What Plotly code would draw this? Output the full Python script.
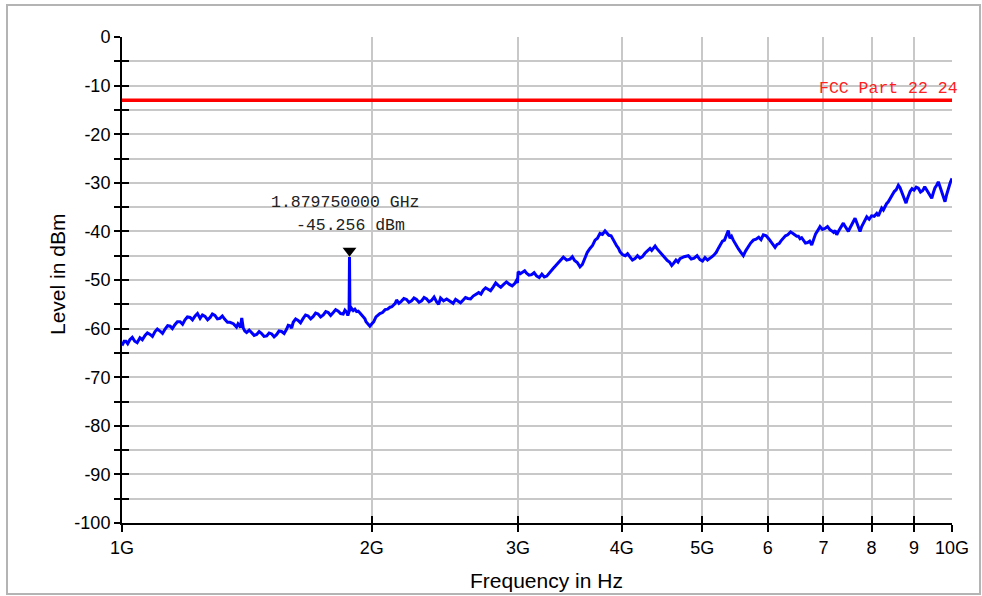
import math
import plotly.graph_objects as go

# ---- data ----
freq_ghz = [
    1.000, 1.006, 1.011, 1.016, 1.022, 1.029, 1.036, 1.043, 1.051, 1.058,
    1.066, 1.073, 1.081, 1.088, 1.096, 1.103, 1.111, 1.119, 1.127, 1.135,
    1.143, 1.150, 1.158, 1.166, 1.175, 1.183, 1.191, 1.199, 1.208, 1.216,
    1.225, 1.233, 1.242, 1.250, 1.259, 1.268, 1.277, 1.285, 1.294, 1.303,
    1.312, 1.321, 1.330, 1.340, 1.349, 1.362, 1.374, 1.380, 1.385, 1.389,
    1.394, 1.400, 1.406, 1.413, 1.423, 1.433, 1.443, 1.453, 1.463, 1.473,
    1.483, 1.494, 1.504, 1.515, 1.525, 1.536, 1.546, 1.557, 1.568, 1.579,
    1.586, 1.594, 1.601, 1.608, 1.619, 1.630, 1.641, 1.653, 1.664, 1.676,
    1.688, 1.700, 1.711, 1.723, 1.735, 1.748, 1.760, 1.772, 1.784, 1.797,
    1.809, 1.822, 1.834, 1.847, 1.856, 1.865, 1.871, 1.8775, 1.87975, 1.8820,
    1.890, 1.899, 1.908, 1.917, 1.926, 1.935, 1.948, 1.962, 1.968, 1.975,
    1.982, 1.989, 2.000, 2.010, 2.023, 2.036, 2.045, 2.060, 2.075, 2.089,
    2.103, 2.114, 2.125, 2.134, 2.142, 2.156, 2.170, 2.186, 2.202, 2.217,
    2.233, 2.248, 2.264, 2.280, 2.296, 2.312, 2.328, 2.344, 2.360, 2.377,
    2.394, 2.407, 2.420, 2.440, 2.461, 2.483, 2.506, 2.523, 2.540, 2.558,
    2.577, 2.593, 2.610, 2.630, 2.649, 2.670, 2.690, 2.707, 2.724, 2.742,
    2.760, 2.780, 2.801, 2.820, 2.840, 2.860, 2.879, 2.905, 2.930, 2.952,
    2.974, 2.985, 2.995, 3.001, 3.020, 3.040, 3.056, 3.072, 3.093, 3.115,
    3.137, 3.160, 3.182, 3.205, 3.227, 3.249, 3.279, 3.309, 3.332, 3.355,
    3.378, 3.402, 3.434, 3.466, 3.488, 3.510, 3.536, 3.563, 3.586, 3.610,
    3.636, 3.663, 3.689, 3.715, 3.740, 3.766, 3.792, 3.819, 3.840, 3.860,
    3.884, 3.908, 3.926, 3.945, 3.963, 3.981, 4.010, 4.040, 4.066, 4.093,
    4.121, 4.150, 4.179, 4.208, 4.237, 4.266, 4.296, 4.327, 4.347, 4.368,
    4.388, 4.408, 4.448, 4.489, 4.514, 4.540, 4.567, 4.595, 4.622, 4.650,
    4.676, 4.702, 4.757, 4.812, 4.851, 4.890, 4.930, 4.970, 5.005, 5.040,
    5.075, 5.110, 5.140, 5.170, 5.200, 5.229, 5.260, 5.290, 5.320, 5.353,
    5.376, 5.400, 5.425, 5.451, 5.490, 5.530, 5.567, 5.605, 5.642, 5.680,
    5.720, 5.763, 5.806, 5.850, 5.887, 5.925, 5.972, 6.020, 6.070, 6.121,
    6.155, 6.190, 6.226, 6.263, 6.300, 6.340, 6.390, 6.439, 6.470, 6.500,
    6.530, 6.560, 6.590, 6.620, 6.660, 6.700, 6.738, 6.776, 6.813, 6.850,
    6.892, 6.934, 6.982, 7.030, 7.080, 7.130, 7.165, 7.200, 7.231, 7.263,
    7.296, 7.330, 7.364, 7.397, 7.423, 7.450, 7.475, 7.501, 7.535, 7.570,
    7.606, 7.642, 7.671, 7.700, 7.724, 7.748, 7.784, 7.820, 7.857, 7.894,
    7.947, 8.000, 8.058, 8.116, 8.153, 8.190, 8.228, 8.266, 8.303, 8.340,
    8.380, 8.421, 8.470, 8.520, 8.568, 8.617, 8.658, 8.699, 8.751, 8.803,
    8.826, 8.850, 8.876, 8.902, 8.951, 9.000, 9.055, 9.109, 9.165, 9.220,
    9.272, 9.324, 9.362, 9.400, 9.427, 9.453, 9.497, 9.540, 9.584, 9.627,
    9.664, 9.700, 9.754, 9.808, 9.854, 9.900, 9.950, 10.000,
]
level_dbm = [
    -63.5, -62.6, -62.6, -63.1, -62.3, -61.8, -62.6, -62.9, -61.9, -62.3,
    -61.4, -60.9, -61.2, -61.6, -60.6, -60.1, -60.5, -61.0, -60.1, -59.4,
    -59.5, -60.0, -59.2, -58.6, -58.6, -59.1, -58.2, -57.6, -57.7, -58.2,
    -57.4, -56.9, -57.9, -57.2, -57.5, -58.2, -57.7, -57.0, -57.3, -58.0,
    -57.9, -57.4, -58.1, -58.7, -58.7, -59.0, -59.7, -59.0, -59.3, -59.8,
    -57.8, -59.9, -60.5, -60.8, -60.3, -60.9, -61.4, -61.2, -60.6, -61.0,
    -61.6, -61.5, -60.9, -61.1, -61.7, -61.2, -60.5, -60.6, -61.0, -60.1,
    -59.3, -59.4, -59.9, -58.7, -58.0, -58.3, -58.8, -57.9, -57.2, -57.4,
    -58.0, -57.5, -56.8, -57.0, -57.6, -57.2, -56.5, -56.7, -57.3, -56.7,
    -56.1, -56.4, -56.9, -57.0, -56.2, -56.6, -57.3, -56.5, -45.256, -56.3,
    -55.8, -56.3, -56.0, -56.5, -56.4, -56.8, -57.3, -58.0, -58.6, -58.9,
    -59.2, -59.5, -59.0, -58.6, -57.6, -57.2, -56.9, -56.7, -56.1, -56.0,
    -55.6, -55.5, -55.2, -54.8, -54.1, -54.8, -54.4, -53.8, -54.0, -54.6,
    -54.3, -53.7, -54.0, -54.6, -54.3, -53.6, -53.9, -54.5, -54.2, -53.5,
    -54.5, -55.0, -53.7, -54.3, -53.9, -54.4, -54.8, -54.0, -54.3, -54.7,
    -54.1, -53.6, -53.8, -53.9, -53.3, -53.0, -52.6, -52.9, -52.1, -51.6,
    -51.9, -52.2, -51.4, -50.6, -51.1, -51.5, -51.0, -50.4, -50.9, -51.2,
    -50.7, -50.2, -50.6, -48.3, -48.7, -48.4, -48.1, -48.6, -49.0, -48.9,
    -48.5, -49.2, -49.5, -48.8, -49.4, -49.2, -48.3, -47.6, -47.0, -46.4,
    -45.7, -45.3, -45.9, -45.7, -45.2, -46.0, -46.4, -47.3, -46.8, -45.6,
    -44.3, -43.5, -42.9, -41.8, -41.4, -40.4, -40.6, -39.9, -40.4, -40.8,
    -40.9, -41.8, -42.6, -43.0, -43.4, -44.2, -44.8, -45.0, -44.6, -45.3,
    -45.9, -45.6, -45.0, -45.5, -45.2, -44.5, -44.0, -43.5, -43.9, -43.4,
    -43.0, -43.5, -44.3, -45.0, -45.4, -46.0, -46.3, -47.0, -46.5, -45.9,
    -46.3, -45.6, -45.2, -45.0, -45.7, -45.5, -45.0, -45.8, -46.1, -45.4,
    -45.9, -45.6, -45.2, -44.8, -44.3, -43.5, -42.8, -42.0, -41.8, -40.8,
    -39.8, -41.4, -41.0, -41.8, -42.8, -43.6, -44.3, -45.0, -44.0, -43.2,
    -42.4, -41.8, -41.6, -41.2, -41.7, -40.7, -40.9, -41.6, -42.5, -43.3,
    -42.7, -42.5, -41.9, -41.5, -40.9, -40.7, -40.1, -40.5, -40.8, -41.0,
    -41.0, -41.5, -41.3, -41.9, -42.4, -42.3, -42.0, -42.8, -41.8, -40.5,
    -39.8, -39.0, -39.6, -39.4, -39.0, -39.7, -39.9, -40.2, -39.8, -40.7,
    -40.0, -39.5, -39.0, -38.3, -38.8, -39.2, -39.8, -40.0, -39.3, -38.6,
    -38.0, -37.3, -38.0, -38.8, -39.5, -40.0, -39.0, -38.3, -37.7, -37.0,
    -37.5, -36.8, -36.9, -36.3, -36.8, -35.8, -35.2, -35.6, -34.8, -34.3,
    -33.9, -33.2, -32.6, -31.8, -31.4, -30.5, -31.0, -32.0, -33.0, -34.2,
    -33.5, -32.8, -32.0, -31.8, -31.2, -31.5, -30.9, -31.1, -31.9, -31.6,
    -30.8, -31.5, -31.8, -32.5, -32.9, -33.2, -32.0, -31.0, -30.5, -29.8,
    -30.6, -31.5, -32.8, -33.9, -32.4, -31.0, -30.0, -29.1,
]

limit_name = "FCC Part 22 24"
limit_dbm = -13.0
limit_freq_ghz = [1.0, 10.0]

peak_freq_ghz = 1.87975
peak_level_dbm = -45.256
peak_label_1 = "1.879750000 GHz"
peak_label_2 = "-45.256 dBm"

x_tick_ghz = [1, 2, 3, 4, 5, 6, 7, 8, 9, 10]
x_tick_text = ["1G", "2G", "3G", "4G", "5G", "6", "7", "8", "9", "10G"]
y_tick_vals = list(range(-100, 1, 5))
y_tick_text = [str(v) if v % 10 == 0 else "" for v in y_tick_vals]

x_title = "Frequency in Hz"
y_title = "Level in dBm"

# ---- figure ----
hz = 1e9
fx = [f * hz for f in freq_ghz]
xtv = [f * hz for f in x_tick_ghz]

W, H = 982, 596
L, R, T, B = 122, 30, 37, 73
PW, PH = W - L - R, H - T - B


def px_x(x):
    return (x - L) / PW


def px_y(y):
    return (T + PH - y) / PH


fig = go.Figure()
fig.add_trace(go.Scatter(
    x=fx, y=level_dbm, mode="lines",
    line=dict(color="#0000ff", width=3), showlegend=False, hoverinfo="skip"))
fig.add_trace(go.Scatter(
    x=[f * hz for f in limit_freq_ghz], y=[limit_dbm, limit_dbm], mode="lines",
    line=dict(color="#ff0000", width=3.5), showlegend=False, hoverinfo="skip",
    xaxis="x2", yaxis="y2"))
fig.add_trace(go.Scatter(
    x=[peak_freq_ghz * hz], y=[peak_level_dbm + 1.3], mode="markers",
    marker=dict(symbol="triangle-down", size=12, color="black"),
    showlegend=False, hoverinfo="skip"))

tickfont = dict(family="Liberation Sans, Arial", size=18, color="black")
xr = [9, 10]
yr = [-100, 0]

fig.update_layout(
    width=W, height=H,
    margin=dict(l=L, r=R, t=T, b=B),
    paper_bgcolor="white", plot_bgcolor="white",
    xaxis=dict(type="log", range=xr, tickvals=xtv, ticktext=x_tick_text,
               showgrid=True, gridcolor="#c8c8c8", gridwidth=2,
               showline=True, linecolor="black", linewidth=2,
               ticks="outside", ticklen=7, tickwidth=2, tickcolor="black",
               tickfont=tickfont, zeroline=False),
    yaxis=dict(range=yr, tickvals=y_tick_vals, ticktext=y_tick_text,
               showgrid=True, gridcolor="#c8c8c8", gridwidth=2,
               showline=True, linecolor="black", linewidth=2,
               ticks="outside", ticklen=6, tickwidth=2, tickcolor="black",
               tickfont=tickfont, zeroline=False),
    xaxis2=dict(type="log", range=xr, overlaying="x", tickvals=xtv,
                showticklabels=False, showgrid=False, showline=False,
                ticks="inside", ticklen=7, tickwidth=2, tickcolor="black",
                zeroline=False),
    yaxis2=dict(range=yr, overlaying="y", tickvals=y_tick_vals,
                showticklabels=False, showgrid=False, showline=False,
                ticks="inside", ticklen=7, tickwidth=2, tickcolor="black",
                zeroline=False),
)

mono = dict(family="Liberation Mono, Courier New, monospace", size=16.5)
peak_x_log = math.log10(peak_freq_ghz * hz)
fig.add_annotation(x=1.0, xref="paper", xanchor="right", xshift=8,
                   y=limit_dbm, yref="y", yanchor="bottom", yshift=0,
                   text=limit_name, showarrow=False,
                   font=dict(color="#ff2020", **mono))
fig.add_annotation(x=peak_x_log, xref="x", xanchor="center", xshift=-4,
                   y=px_y(202.5), yref="paper", yanchor="middle",
                   text=peak_label_1, showarrow=False,
                   font=dict(color="#222222", **mono))
fig.add_annotation(x=peak_x_log, xref="x", xanchor="center", xshift=1,
                   y=px_y(225), yref="paper", yanchor="middle",
                   text=peak_label_2, showarrow=False,
                   font=dict(color="#222222", **mono))

title_font = dict(family="Liberation Sans, Arial", size=21, color="black")
fig.add_annotation(x=px_x(546), y=px_y(580), xref="paper", yref="paper",
                   text=x_title, showarrow=False, font=title_font,
                   xanchor="center", yanchor="middle")
fig.add_annotation(x=px_x(57), y=px_y(275), xref="paper", yref="paper",
                   text=y_title, showarrow=False, font=title_font,
                   textangle=-90, xanchor="center", yanchor="middle")

# outer frame
fig.add_shape(type="rect", xref="paper", yref="paper",
              x0=px_x(7), x1=px_x(980), y0=px_y(594), y1=px_y(5),
              line=dict(color="#b4b4b4", width=2), layer="below")

fig.write_html("out.html",
               config={"displayModeBar": False},
               post_script="document.body.style.margin='0';"
                           "document.body.style.overflow='hidden';")
